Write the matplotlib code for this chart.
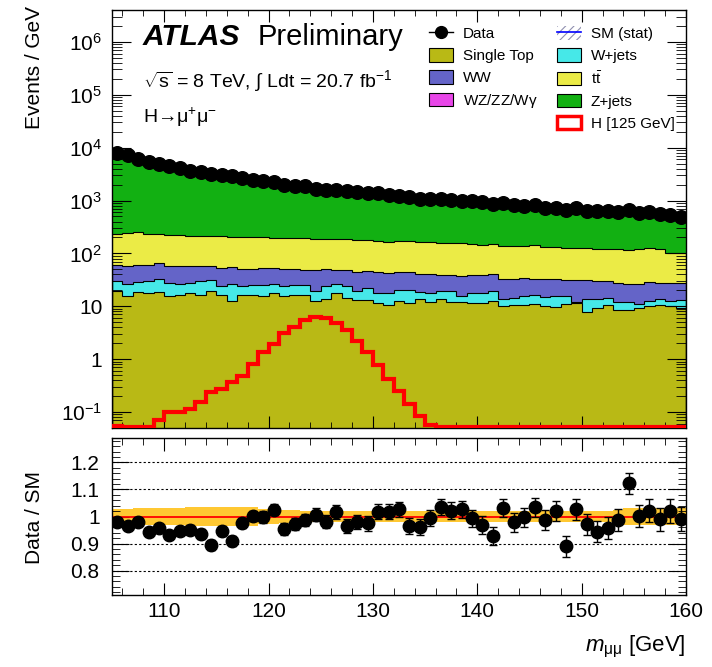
import numpy as np
import matplotlib
matplotlib.use("Agg")
import matplotlib.pyplot as plt
from matplotlib.patches import Patch
from matplotlib.lines import Line2D
from matplotlib.ticker import (MultipleLocator, LogLocator, FuncFormatter, NullFormatter,
                               FixedLocator)

plt.rcParams.update({
    'font.family': ['Liberation Sans', 'DejaVu Sans'],
    'mathtext.fontset': 'custom',
    'mathtext.rm': 'Liberation Sans',
    'mathtext.it': 'Liberation Sans:italic',
    'mathtext.bf': 'Liberation Sans:bold',
    'hatch.linewidth': 0.8,
})

# 1 GeV bins, 105 - 160 GeV
edges = np.arange(105, 161, 1)
centers = edges[:-1] + 0.5

# events / GeV in data
data = [7940, 7170, 6110, 5280, 4920, 4450, 4070, 3680, 3430, 3240,
        3100, 2880, 2680, 2490, 2310, 2210, 2000, 1920, 1860, 1680,
        1610, 1610, 1500, 1440, 1400, 1360, 1280, 1240, 1155, 1090,
        1075, 1090, 1013, 970, 970, 930, 865, 905, 805, 782,
        828, 728, 728, 676, 707, 647, 629, 629, 602, 676,
        585, 611, 545, 521, 492]

# stacked background, upper edge of each layer (cumulative)
single_top = [19.5, 15.7, 18.6, 17.6, 18.6, 15.7, 16.6, 17.6, 16.1, 19.2,
              16.1, 12.6, 16.1, 16.1, 15.7, 18.1, 15.7, 16.1, 16.1, 12.6,
              14.0, 18.1, 14.6, 13.2, 13.2, 11.7, 10.6, 12.6, 11.4, 13.6,
              12.1, 13.6, 12.1, 12.1, 11.7, 11.4, 12.6, 10.1, 10.4, 10.6,
              10.9, 10.1, 9.9, 10.9, 11.7, 7.9, 9.4, 10.6, 8.5, 8.5,
              9.4, 10.1, 10.6, 10.1, 9.4]
wjets_top = [30.1, 26.0, 28.8, 30.5, 32.3, 28.0, 26.8, 28.0, 30.1, 31.4,
             24.2, 26.8, 24.2, 24.9, 25.3, 26.8, 24.2, 25.3, 25.3, 19.5,
             24.2, 26.0, 24.2, 19.5, 21.9, 18.1, 17.6, 20.3, 20.3, 18.6,
             18.1, 19.5, 19.5, 15.7, 18.1, 18.1, 19.5, 14.0, 14.6, 15.7,
             16.1, 15.2, 15.7, 15.7, 12.1, 13.6, 13.6, 14.6, 12.2, 12.2,
             10.9, 12.6, 13.6, 12.6, 13.2]
ww_top = [61, 58, 60, 60, 67, 59, 59, 59, 59, 59,
          54, 56, 50, 51, 53.7, 53.7, 49.9, 49.9, 47.8, 48.5,
          49.9, 48.5, 47.8, 45.1, 46.4, 45.1, 43.2, 45.1, 44.4, 41.3,
          41.3, 38.4, 38.4, 37.3, 38.4, 38.4, 40.2, 32.3, 32.3, 34.8,
          33.3, 33.3, 32.3, 31.0, 31.0, 31.4, 29.6, 29.6, 28.0, 26.8,
          26.8, 28.8, 28.0, 28.0, 28.0]
ttbar_top = [235, 244, 250, 230, 228, 226, 220, 218, 217, 216,
             210, 208, 204, 203, 203, 192, 192, 198, 198, 189,
             184, 184, 184, 176, 176, 171, 164, 171, 171, 164,
             164, 155, 155, 159, 152, 146, 148, 137, 137, 137,
             142, 134, 132, 128, 128, 128, 119, 119, 119, 114,
             122, 126, 122, 103, 103]

# H -> mumu signal, mH = 125 GeV
higgs = [0.055, 0.052, 0.052, 0.052, 0.071, 0.099, 0.099, 0.114, 0.157, 0.242,
         0.272, 0.373, 0.484, 0.805, 1.34, 1.92, 3.1, 4.13, 5.52, 6.29,
         5.94, 4.78, 3.57, 2.22, 1.34, 0.77, 0.42, 0.252, 0.142, 0.085,
         0.057, 0.052, 0.052, 0.052, 0.052, 0.052, 0.052, 0.052, 0.052, 0.052,
         0.052, 0.052, 0.052, 0.052, 0.052, 0.052, 0.052, 0.052, 0.052, 0.052,
         0.052, 0.052, 0.052, 0.052, 0.052]

# Data / SM
ratio = [0.981, 0.965, 0.981, 0.944, 0.959, 0.931, 0.946, 0.951, 0.935, 0.894,
         0.947, 0.910, 0.976, 1.002, 0.998, 1.025, 0.953, 0.973, 0.988, 1.006,
         0.981, 1.017, 0.964, 0.980, 0.975, 1.018, 1.018, 1.027, 0.966, 0.960,
         0.994, 1.036, 1.021, 1.026, 0.993, 0.970, 0.928, 1.032, 0.978, 0.998,
         1.034, 0.987, 1.021, 0.890, 1.026, 0.972, 0.944, 0.958, 0.988, 1.123,
         1.002, 1.021, 0.990, 1.019, 0.990]
ratio_err = [0.011, 0.012, 0.013, 0.014, 0.014, 0.015, 0.016, 0.016, 0.017, 0.018,
             0.018, 0.019, 0.019, 0.020, 0.021, 0.021, 0.022, 0.023, 0.023, 0.024,
             0.025, 0.025, 0.026, 0.026, 0.027, 0.027, 0.028, 0.028, 0.029, 0.030,
             0.030, 0.030, 0.031, 0.032, 0.032, 0.033, 0.034, 0.033, 0.035, 0.035,
             0.035, 0.037, 0.037, 0.038, 0.038, 0.039, 0.040, 0.040, 0.041, 0.039,
             0.041, 0.043, 0.043, 0.044, 0.045]
# SM (stat) half width in the ratio
mc_stat = [0.026, 0.027, 0.030, 0.031, 0.032, 0.032, 0.033, 0.034, 0.035, 0.035,
           0.035, 0.035, 0.035, 0.034, 0.028, 0.027, 0.024, 0.023, 0.022, 0.022,
           0.022, 0.021, 0.021, 0.021, 0.021, 0.021, 0.021, 0.021, 0.020, 0.020,
           0.020, 0.020, 0.020, 0.020, 0.020, 0.020, 0.020, 0.020, 0.020, 0.020,
           0.021, 0.021, 0.021, 0.021, 0.021, 0.021, 0.022, 0.022, 0.024, 0.030,
           0.032, 0.032, 0.032, 0.033, 0.033]

ZJETS_C = '#12b012'
TTBAR_C = '#ebeb46'
WW_C = '#6464c8'
WJETS_C = '#46e8e8'
STOP_C = '#b9b915'
DIBOSON_C = '#e846e8'
BAND_C = '#ffc832'

data = np.array(data, dtype=float)
ratio = np.array(ratio)
sm_total = data / ratio

fig = plt.figure(figsize=(7.12, 6.67), dpi=100)
ax = fig.add_axes([112 / 712, 1 - 428 / 667, 574 / 712, 418 / 667])
axr = fig.add_axes([112 / 712, 1 - 595 / 667, 574 / 712, 157 / 667])

# ---- main panel
y_floor = 0.05
layers = [
    (y_floor, single_top, STOP_C),
    (single_top, wjets_top, WJETS_C),
    (wjets_top, ww_top, WW_C),
    (ww_top, ttbar_top, TTBAR_C),
    (ttbar_top, sm_total, ZJETS_C),
]
for low, high, col in layers:
    low = np.broadcast_to(np.asarray(low, dtype=float), (len(centers),))
    ax.stairs(high, edges, baseline=low, fill=True, color=col, lw=0)
for top in [single_top, wjets_top, ww_top, ttbar_top]:
    ax.stairs(top, edges, color='k', lw=0.8)

ax.stairs(higgs, edges, color='red', lw=3.0, zorder=4)
ax.plot(centers, data, 'o', color='k', ms=9.8, zorder=5)

ax.set_yscale('log')
ax.set_xlim(105, 160)
ax.set_ylim(y_floor, 4e6)


def log_label(v, pos):
    e = int(round(np.log10(v)))
    if e == 0:
        return '1'
    if e == 1:
        return '10'
    return r'$10^{%d}$' % e


ax.yaxis.set_major_locator(FixedLocator([10.0 ** e for e in range(-1, 7)]))
ax.yaxis.set_minor_locator(LogLocator(base=10, subs=np.arange(2, 10), numticks=15))
ax.yaxis.set_major_formatter(FuncFormatter(log_label))
ax.yaxis.set_minor_formatter(NullFormatter())
ax.xaxis.set_major_locator(MultipleLocator(10))
ax.xaxis.set_minor_locator(MultipleLocator(2))
ax.tick_params(axis='both', which='both', direction='in', top=True, right=True)
ax.tick_params(axis='x', which='major', length=8.5, labelbottom=False)
ax.tick_params(axis='x', which='minor', length=4.5)
ax.tick_params(axis='y', which='major', length=14, labelsize=15, pad=7)
ax.tick_params(axis='y', which='minor', length=7)

# text
fig.text(143 / 712, 1 - 45 / 667, 'ATLAS', fontsize=21.5, fontweight='bold',
         fontstyle='italic', va='baseline')
fig.text(258 / 712, 1 - 45 / 667, 'Preliminary', fontsize=21, va='baseline')
fig.text(143 / 712, 1 - 87 / 667,
         r'$\sqrt{\mathrm{s}}$ = 8 TeV, $\int$ Ldt = 20.7 fb$^{-1}$',
         fontsize=14, va='baseline')
fig.text(143 / 712, 1 - 123 / 667, r'H→$\mathrm{\mu}^{+}\mathrm{\mu}^{-}$',
         fontsize=14, va='baseline')

# legend
leg_kw = dict(fontsize=11, frameon=False, handlelength=1.6, handleheight=1.0,
              handletextpad=0.6, labelspacing=0.45, borderpad=0, borderaxespad=0,
              loc='upper left', bbox_transform=fig.transFigure, numpoints=1)
h_left = [
    Line2D([], [], color='k', marker='o', ms=8.5, lw=1),
    Patch(fc=STOP_C, ec='k', lw=0.8),
    Patch(fc=WW_C, ec='k', lw=0.8),
    Patch(fc=DIBOSON_C, ec='k', lw=0.8),
]
l_left = ['Data', 'Single Top', 'WW', r'WZ/ZZ/W$\mathrm{\gamma}$']
h_right = [
    (Patch(fc='none', ec='#9090b0', hatch='////', lw=0), Line2D([], [], color='blue', lw=1.2)),
    Patch(fc=WJETS_C, ec='k', lw=0.8),
    Patch(fc=TTBAR_C, ec='k', lw=0.8),
    Patch(fc=ZJETS_C, ec='k', lw=0.8),
    Patch(fc='white', ec='red', lw=2.5),
]
l_right = ['SM (stat)', 'W+jets', r't$\bar{\mathrm{t}}$', 'Z+jets', 'H [125 GeV]']
leg1 = ax.legend(h_left, l_left, bbox_to_anchor=(429 / 712, 1 - 26 / 667), **leg_kw)
ax.add_artist(leg1)
ax.legend(h_right, l_right, bbox_to_anchor=(557 / 712, 1 - 26 / 667), **leg_kw)

# ---- ratio panel
axr.stairs(1 + np.array(mc_stat), edges, baseline=1 - np.array(mc_stat), fill=True,
           color=BAND_C, lw=0)
for g in [0.8, 0.9, 1.1, 1.2]:
    axr.axhline(g, color='k', lw=0.8, ls=(0, (2, 2)))
axr.axhline(1.0, color='red', lw=1.3)
axr.errorbar(centers, ratio, yerr=ratio_err, fmt='o', color='k', ms=9,
             capsize=3, elinewidth=1, capthick=1, zorder=5)
axr.set_xlim(105, 160)
axr.set_ylim(0.71, 1.29)
axr.yaxis.set_major_locator(FixedLocator([0.8, 0.9, 1.0, 1.1, 1.2]))
axr.yaxis.set_major_formatter(FuncFormatter(lambda v, p: '%g' % v))
axr.yaxis.set_minor_locator(MultipleLocator(0.02))
axr.xaxis.set_major_locator(FixedLocator([110, 120, 130, 140, 150, 160]))
axr.xaxis.set_minor_locator(MultipleLocator(2))
axr.tick_params(axis='both', which='both', direction='in', top=True, right=True)
axr.tick_params(axis='x', which='major', length=9, labelsize=15, pad=5)
axr.tick_params(axis='x', which='minor', length=5)
axr.tick_params(axis='y', which='major', length=12, labelsize=15, pad=9)
axr.tick_params(axis='y', which='minor', length=6)

for a in (ax, axr):
    for s in a.spines.values():
        s.set_linewidth(1.0)

fig.text(35 / 712, 1 - 6 / 667, 'Events / GeV', rotation=90, fontsize=15,
         ha='center', va='top')
fig.text(35 / 712, 1 - 517 / 667, 'Data / SM', rotation=90, fontsize=15,
         ha='center', va='center')
fig.text(686 / 712, 1 - 647 / 667, r'$m_{\mathrm{\mu\mu}}$ [GeV]', fontsize=16,
         ha='right', va='center')

fig.savefig('out.png', dpi=100)
